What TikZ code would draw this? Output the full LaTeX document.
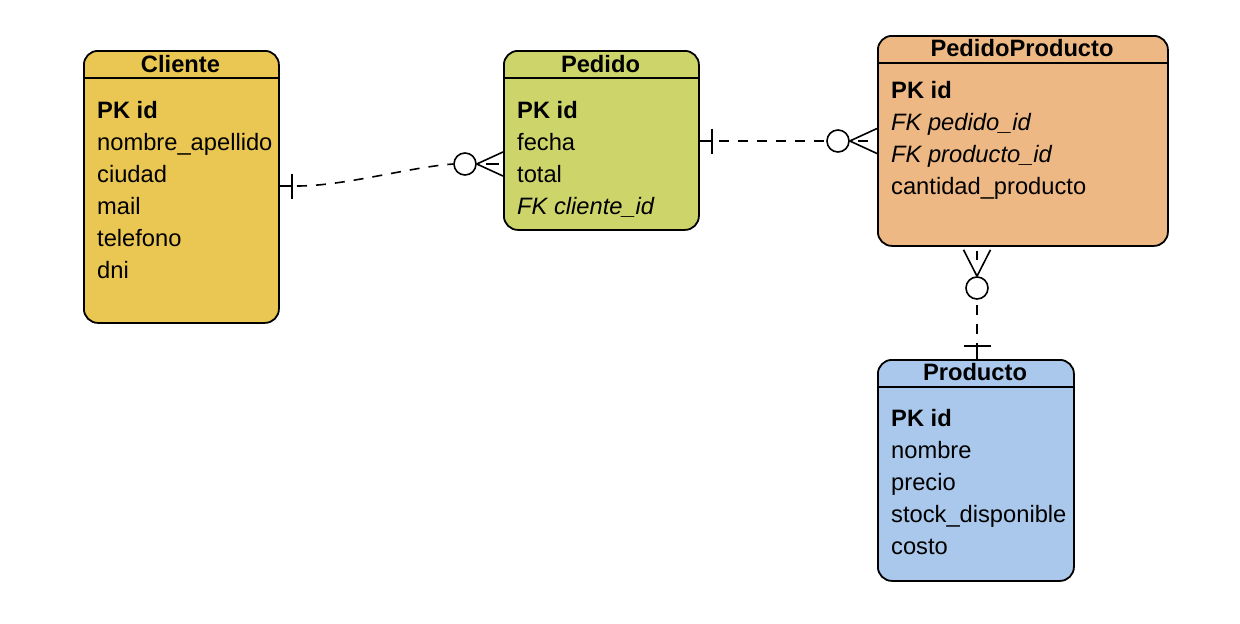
\documentclass[tikz,border=0pt]{standalone}
\usepackage{fontspec}
\setmainfont{Liberation Sans}
\definecolor{cliC}{HTML}{EAC752}
\definecolor{pedC}{HTML}{CDD46A}
\definecolor{ppC}{HTML}{EDB883}
\definecolor{proC}{HTML}{A9C8EC}
\begin{document}
\begin{tikzpicture}[x=1pt,y=-1pt,
  ent/.style={draw=black, line width=1.8pt, rounded corners=14pt, inner sep=0pt, anchor=north west},
  attr/.style={anchor=base west, inner sep=0pt, font=\fontsize{23.7}{28}\selectfont},
  ttl/.style={anchor=base, inner sep=0pt, font=\fontsize{23.7}{28}\selectfont\bfseries},
  hdr/.style={line width=1.8pt},
  rel/.style={line width=1.6pt, dash pattern=on 10pt off 9pt},
  mk/.style={line width=1.6pt},
  zero/.style={circle, draw, fill=white, line width=1.6pt, minimum size=22pt, inner sep=0pt}]
\useasboundingbox[fill=white] (0,0) rectangle (1240,624);

% Cliente
\node[ent, fill=cliC, minimum width=195pt, minimum height=272pt] (cli) at (83,50) {};
\draw[hdr] (cli.west |- 0,78) -- (cli.east |- 0,78);
\node[ttl] (cliT) at (180.5,72.5) {Cliente};
\node[attr] (cli1) at (97,118) {\textbf{PK id}};
\node[attr] (cli2) at (97,150) {nombre\_apellido};
\node[attr] (cli3) at (97,182) {ciudad};
\node[attr] (cli4) at (97,214) {mail};
\node[attr] (cli5) at (97,246) {telefono};
\node[attr] (cli6) at (97,278) {dni};

% Pedido
\node[ent, fill=pedC, minimum width=195pt, minimum height=179pt] (ped) at (503,50) {};
\draw[hdr] (ped.west |- 0,78) -- (ped.east |- 0,78);
\node[ttl] (pedT) at (600.5,72.5) {Pedido};
\node[attr] (ped1) at (517,118) {\textbf{PK id}};
\node[attr] (ped2) at (517,150) {fecha};
\node[attr] (ped3) at (517,182) {total};
\node[attr] (ped4) at (517,214) {\itshape FK cliente\_id};

% PedidoProducto
\node[ent, fill=ppC, minimum width=290pt, minimum height=210pt] (pp) at (877,35) {};
\draw[hdr] (pp.west |- 0,63) -- (pp.east |- 0,63);
\node[ttl] (ppT) at (1022,56.5) {PedidoProducto};
\node[attr] (pp1) at (891,98) {\textbf{PK id}};
\node[attr] (pp2) at (891,130) {\itshape FK pedido\_id};
\node[attr] (pp3) at (891,162) {\itshape FK producto\_id};
\node[attr] (pp4) at (891,194) {cantidad\_producto};

% Producto
\node[ent, fill=proC, minimum width=196pt, minimum height=221pt] (pro) at (877,359) {};
\draw[hdr] (pro.west |- 0,387) -- (pro.east |- 0,387);
\node[ttl] (proT) at (975,380) {Producto};
\node[attr] (pro1) at (891,426) {\textbf{PK id}};
\node[attr] (pro2) at (891,458) {nombre};
\node[attr] (pro3) at (891,490) {precio};
\node[attr] (pro4) at (891,522) {stock\_disponible};
\node[attr] (pro5) at (891,554) {costo};

% Relation Cliente - Pedido
\coordinate (r1a) at (cli.east |- 0,186);
\coordinate (r1bar) at (292,186);
\coordinate (r1b) at (ped.west |- 0,164);
\node[zero] (z1) at (465,164) {};
\draw[mk] (r1a) -- (r1bar);
\draw[mk] ([yshift=12.5pt]r1bar) -- ([yshift=-12.5pt]r1bar);
\draw[rel] ([xshift=5pt]r1bar) .. controls (345,186) and (410,167) .. (z1.west);
\draw[mk] (z1.east) -- ([yshift=12pt]r1b);
\draw[mk] (z1.east) -- ([yshift=-12pt]r1b);
\draw[mk] ([xshift=-17pt]r1b) -- ([xshift=-4pt]r1b);

% Relation Pedido - PedidoProducto
\coordinate (r2a) at (ped.east |- 0,141);
\coordinate (r2bar) at (712,141);
\coordinate (r2b) at (pp.west |- 0,141);
\node[zero] (z2) at (838,141) {};
\draw[mk] (r2a) -- (r2bar);
\draw[mk] ([yshift=12.5pt]r2bar) -- ([yshift=-12.5pt]r2bar);
\draw[rel] ([xshift=7pt]r2bar) -- (z2.west);
\draw[mk] (z2.east) -- ([yshift=12.5pt]r2b);
\draw[mk] (z2.east) -- ([yshift=-12.5pt]r2b);
\draw[mk] ([xshift=-19pt]r2b) -- ([xshift=-9pt]r2b);

% Relation PedidoProducto - Producto
\coordinate (r3a) at (pp.south -| 977,0);
\coordinate (r3bar) at (977,346);
\coordinate (r3b) at (pro.north -| 977,0);
\node[zero] (z3) at (977,288) {};
\draw[mk] (r3b) -- (r3bar);
\draw[mk] ([xshift=-13.5pt]r3bar) -- ([xshift=13.5pt]r3bar);
\draw[rel] ([yshift=-7pt]r3bar) -- (z3.south);
\draw[mk] (z3.north) -- ([xshift=-13.5pt,yshift=-3pt]r3a);
\draw[mk] (z3.north) -- ([xshift=13.5pt,yshift=-3pt]r3a);
\draw[mk] ([yshift=-4pt]r3a) -- ([yshift=-13pt]r3a);
\end{tikzpicture}
\end{document}
